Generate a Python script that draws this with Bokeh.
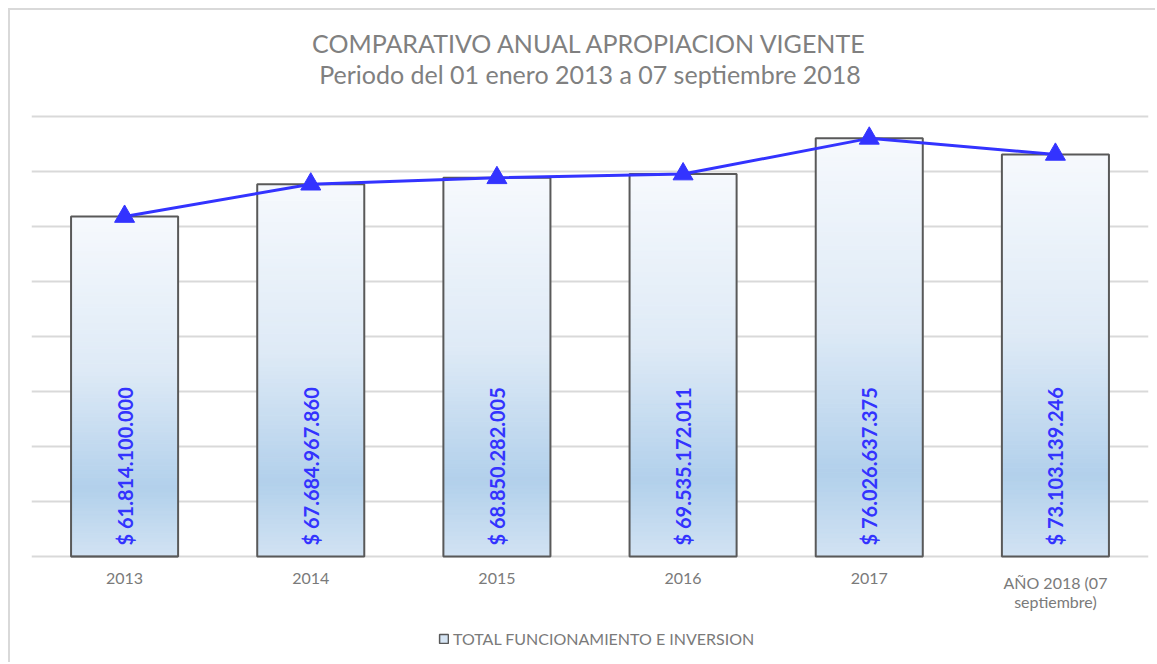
import numpy as np
from bokeh.plotting import figure
from bokeh.models import FactorRange, Range1d, FixedTicker, Label, Legend, LegendItem
from bokeh.core.properties import value
from bokeh.embed import file_html
from bokeh.resources import INLINE

# ---- data ----
categories = ["2013", "2014", "2015", "2016", "2017", "AÑO 2018 (07\nseptiembre)"]
values = [61814100000, 67684967860, 68850282005, 69535172011, 76026637375, 73103139246]
value_labels = ["$ 61.814.100.000", "$ 67.684.967.860", "$ 68.850.282.005",
                "$ 69.535.172.011", "$ 76.026.637.375", "$ 73.103.139.246"]
grid_ticks = [0, 10e9, 20e9, 30e9, 40e9, 50e9, 60e9, 70e9, 80e9]
series_name = "TOTAL FUNCIONAMIENTO E INVERSION"
title_main = "COMPARATIVO ANUAL APROPIACION VIGENTE"
title_sub = "Periodo del 01 enero 2013 a 07 septiembre 2018"

# ---- style ----
BAR_W = 0.575
BLUE = "#3333ff"
GRAY_TXT = "#7a7a7a"
OUTLINE = "#595959"
stops = [(0.0, (246, 249, 253)), (0.45, (222, 234, 246)), (0.80, (178, 208, 235)), (1.0, (210, 227, 243))]


def grad(t):
    for (t0, c0), (t1, c1) in zip(stops[:-1], stops[1:]):
        if t <= t1:
            f = (t - t0) / (t1 - t0) if t1 > t0 else 0
            c = [round(a + (b - a) * f) for a, b in zip(c0, c1)]
            return "#%02x%02x%02x" % tuple(c)
    return "#%02x%02x%02x" % stops[-1][1]


W, H = 1147, 654
# frame spans the whole height so titles, labels and legend are inside it
p = figure(x_range=FactorRange(factors=categories), y_range=Range1d(-19.636e9, 99.273e9),
           width=W, height=H, output_backend="svg", toolbar_location=None,
           min_border_left=21, min_border_right=9, min_border_top=0, min_border_bottom=0)
p.styles = {"margin-left": "8px", "margin-top": "8px",
            "border-left": "2px solid #d9d9d9", "border-top": "2px solid #d9d9d9"}
p.outline_line_color = None
p.background_fill_color = "white"
p.border_fill_color = "white"

# axes / grid
p.yaxis.visible = False
p.xaxis.visible = False
p.xgrid.visible = False
p.ygrid.ticker = FixedTicker(ticks=grid_ticks)
p.ygrid.grid_line_color = "#d9d9d9"
p.ygrid.grid_line_width = 2

# gradient bars built from slices of each value
N = 90
xs, bots, tops, cols = [], [], [], []
for c, v in zip(categories, values):
    for i in range(N):
        xs.append(c)
        bots.append(v * i / N)
        tops.append(v * (i + 1) / N)
        cols.append(grad(1 - (i + 0.5) / N))
p.vbar(x=xs, bottom=bots, top=tops, width=BAR_W, fill_color=cols, line_color=cols, line_width=1)
p.vbar(x=categories, top=values, width=BAR_W, fill_alpha=0, line_color=OUTLINE, line_width=2)
legend_r = p.vbar(x=[categories[0]], top=[0], width=BAR_W, fill_color="#d6e5f4",
                  line_color=OUTLINE, line_width=1.5)

p.text(x=categories, y=[0] * len(categories), text=value_labels, angle=np.pi / 2,
       text_align="left", text_baseline="middle", y_offset=-11,
       text_font=value("Lato"), text_font_size="20px", text_font_style="bold", text_color=BLUE)

p.line(x=categories, y=values, line_color=BLUE, line_width=3)
p.scatter(x=categories, y=values, marker="triangle", size=20, fill_color=BLUE, line_color=BLUE)

# category labels under the baseline
p.text(x=categories, y=[0] * len(categories), text=categories, y_offset=16,
       text_align="center", text_baseline="top", text_line_height=1.0,
       text_font=value("Lato"), text_font_size="16px", text_color=GRAY_TXT)

legend = Legend(items=[LegendItem(label=series_name, renderers=[legend_r])],
                orientation="horizontal", location=(407, 16), border_line_alpha=0,
                background_fill_alpha=0, label_text_font="Lato", label_text_font_size="16px",
                label_text_color=GRAY_TXT, glyph_width=11, glyph_height=11, label_standoff=4,
                padding=0, spacing=0, margin=0, label_height=20)
p.add_layout(legend)

# two-line chart title, centred over the plot
center_x = len(categories) / 2
for txt, yv in [(title_main, 93.45e9), (title_sub, 87.64e9)]:
    p.add_layout(Label(x=center_x, y=yv, text=txt, text_align="center", text_baseline="middle",
                       text_font="Lato", text_font_size="25px", text_color="#808080"))

open("out.html", "w").write(file_html(p, INLINE))
